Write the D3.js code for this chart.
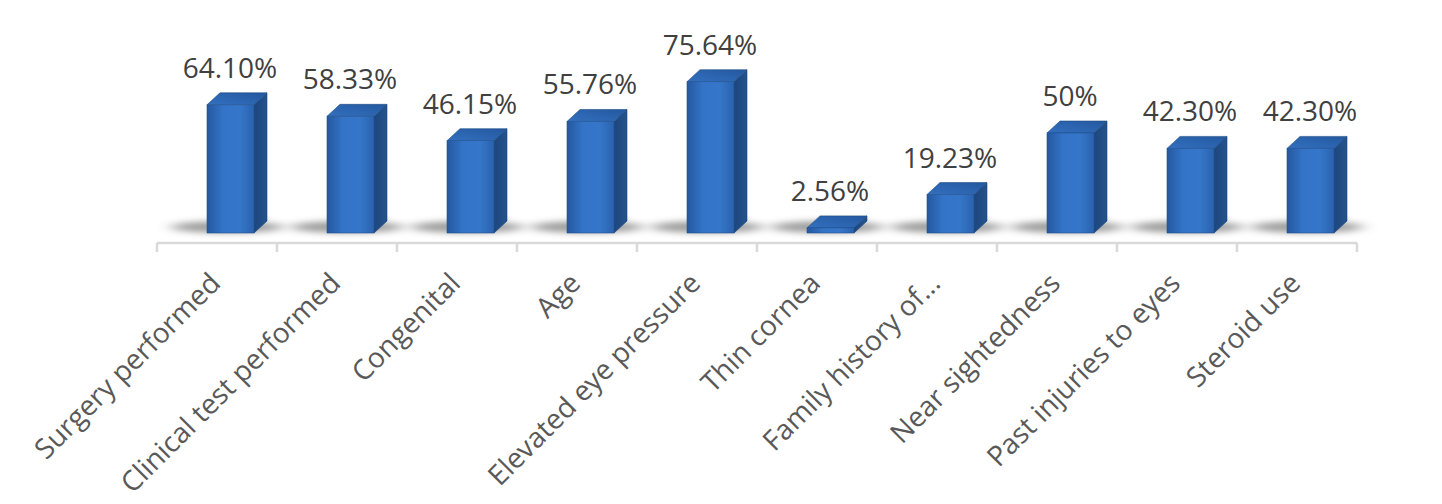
<!DOCTYPE html>
<html>
<head>
<meta charset="utf-8">
<script src="https://cdn.jsdelivr.net/npm/d3@7"></script>
<style>
  html, body { margin: 0; padding: 0; background: #ffffff; }
  svg { display: block; }
</style>
</head>
<body>
<svg id="chart" width="1442" height="504"></svg>
<script>
// Risk factors and the share of respondents citing each one (%)
const categories = [
  "Surgery performed", "Clinical test performed", "Congenital", "Age",
  "Elevated eye pressure", "Thin cornea", "Family history of...",
  "Near sightedness", "Past injuries to eyes", "Steroid use"
];
const values = [64.10, 58.33, 46.15, 55.76, 75.64, 2.56, 19.23, 50, 42.30, 42.30];
const valueLabels = ["64.10%", "58.33%", "46.15%", "55.76%", "75.64%", "2.56%", "19.23%", "50%", "42.30%", "42.30%"];

const svg = d3.select("#chart");

const x = d3.scaleBand().domain(categories).range([157, 1357]).paddingInner(0).paddingOuter(0);
const y = d3.scaleLinear().domain([0, 100]).range([233, 33]);
const cx = d => x(d) + x.bandwidth() / 2;

// 3D box geometry
const frontShift = -10, frontW = 47, depthX = 13, depthY = 12;

const defs = svg.append("defs");
const gFront = defs.append("linearGradient").attr("id", "gFront").attr("x1", 0).attr("x2", 1).attr("y1", 0).attr("y2", 0);
gFront.append("stop").attr("offset", "0%").attr("stop-color", "#2558a0");
gFront.append("stop").attr("offset", "35%").attr("stop-color", "#3474c8");
gFront.append("stop").attr("offset", "70%").attr("stop-color", "#3576c9");
gFront.append("stop").attr("offset", "100%").attr("stop-color", "#2a62ad");
const gSide = defs.append("linearGradient").attr("id", "gSide").attr("x1", 0).attr("x2", 1).attr("y1", 0).attr("y2", 0);
gSide.append("stop").attr("offset", "0%").attr("stop-color", "#1d467c");
gSide.append("stop").attr("offset", "100%").attr("stop-color", "#24538f");
const gTop = defs.append("linearGradient").attr("id", "gTop").attr("x1", 0).attr("x2", 1).attr("y1", 1).attr("y2", 0);
gTop.append("stop").attr("offset", "0%").attr("stop-color", "#3370c0");
gTop.append("stop").attr("offset", "100%").attr("stop-color", "#24589e");

const blur = defs.append("filter").attr("id", "soft").attr("x", "-50%").attr("y", "-200%").attr("width", "200%").attr("height", "500%");
blur.append("feGaussianBlur").attr("stdDeviation", "8 3");

// floor shadows
svg.append("g").selectAll("ellipse").data(categories).join("ellipse")
  .attr("cx", d => cx(d) + 10)
  .attr("cy", 227)
  .attr("rx", 56)
  .attr("ry", 6)
  .attr("fill", "#5e5e5e")
  .attr("opacity", 0.6)
  .attr("filter", "url(#soft)");

// axis line with ticks at band boundaries
const axisY = 243;
const axis = svg.append("g");
axis.append("line").attr("x1", 157).attr("x2", 1357).attr("y1", axisY).attr("y2", axisY)
  .attr("stroke", "#d9d9d9").attr("stroke-width", 2.5);
const bounds = categories.map(d => x(d)).concat([x.range()[1]]);
axis.selectAll("line.tick").data(bounds).join("line").attr("class", "tick")
  .attr("x1", d => d).attr("x2", d => d).attr("y1", axisY).attr("y2", axisY + 9)
  .attr("stroke", "#d9d9d9").attr("stroke-width", 2.5);

// bars
const bars = svg.append("g").selectAll("g").data(categories.map((c, i) => ({ c, v: values[i] }))).join("g");
bars.each(function (d) {
  const g = d3.select(this);
  const x0 = cx(d.c) + frontShift, x1 = x0 + frontW;
  const yb = y(0), yt = y(d.v);
  g.append("path")
    .attr("d", `M${x1},${yt} L${x1 + depthX},${yt - depthY} L${x1 + depthX},${yb - depthY} L${x1},${yb} Z`)
    .attr("fill", "url(#gSide)").attr("stroke", "#1c4477").attr("stroke-width", 0.6);
  g.append("path")
    .attr("d", `M${x0},${yt} L${x0 + depthX},${yt - depthY} L${x1 + depthX},${yt - depthY} L${x1},${yt} Z`)
    .attr("fill", "url(#gTop)").attr("stroke", "#1f4b84").attr("stroke-width", 0.6);
  g.append("rect")
    .attr("x", x0).attr("y", yt).attr("width", frontW).attr("height", yb - yt)
    .attr("fill", "url(#gFront)").attr("stroke", "#22528f").attr("stroke-width", 0.6);
});

// value labels
svg.append("g").selectAll("text").data(categories).join("text")
  .attr("x", d => cx(d) + 13)
  .attr("y", (d, i) => y(values[i]) - depthY - 15)
  .attr("text-anchor", "middle")
  .attr("font-family", "'Open Sans', sans-serif")
  .attr("font-size", 28)
  .attr("fill", "#404040")
  .text((d, i) => valueLabels[i]);

// category labels, rotated
svg.append("g").selectAll("text").data(categories).join("text")
  .attr("transform", d => `translate(${cx(d) + 5},${285}) rotate(-45)`)
  .attr("text-anchor", "end")
  .attr("font-family", "'Open Sans', sans-serif")
  .attr("font-size", 28)
  .attr("fill", "#595959")
  .text(d => d);
</script>
</body>
</html>
